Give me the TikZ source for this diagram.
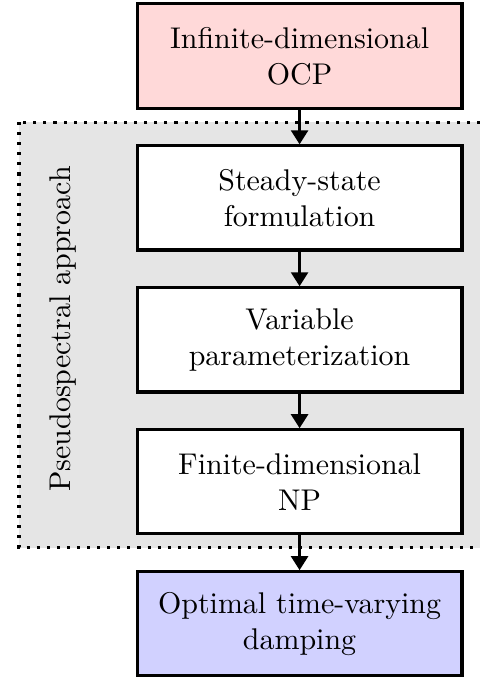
\documentclass[tikz,border=0pt]{standalone}
\usetikzlibrary{positioning,backgrounds,arrows.meta}
\begin{document}
\begin{tikzpicture}[
        block/.style={rectangle, draw, line width=1.1pt, fill=white, minimum width=116pt, minimum height=37.2pt, align=center, font=\fontsize{10.7pt}{13pt}\selectfont},
        flow/.style={-{Triangle[length=5pt, width=6pt]}, line width=1.1pt},
        node distance=12.4pt,
    ]
        \useasboundingbox (0,0) rectangle (171.4pt,-241.8pt);

        \node[block, fill=red!15] (ocp) at (107pt,-20pt) {Infinite-dimensional\\OCP};
        \node[block, below=of ocp] (steady) {Steady-state\\formulation};
        \node[block, below=of steady] (param) {Variable\\parameterization};
        \node[block, below=of param] (np) {Finite-dimensional\\NP};
        \node[block, fill=blue!18, below=of np] (damping) {Optimal time-varying\\damping};

        \node[rotate=90, font=\fontsize{10.7pt}{13pt}\selectfont] (approach) at (22.5pt,-117.5pt) {Pseudospectral approach};

        \begin{scope}[on background layer]
            \draw[line width=1.1pt, dash pattern=on 1.1pt off 2.5pt, fill=gray!20] (6.8pt,-43.6pt) rectangle (180pt,-195.7pt);
        \end{scope}

        \draw[flow] (ocp) -- (steady);
        \draw[flow] (steady) -- (param);
        \draw[flow] (param) -- (np);
        \draw[flow] (np) -- (damping);
    \end{tikzpicture}
\end{document}
